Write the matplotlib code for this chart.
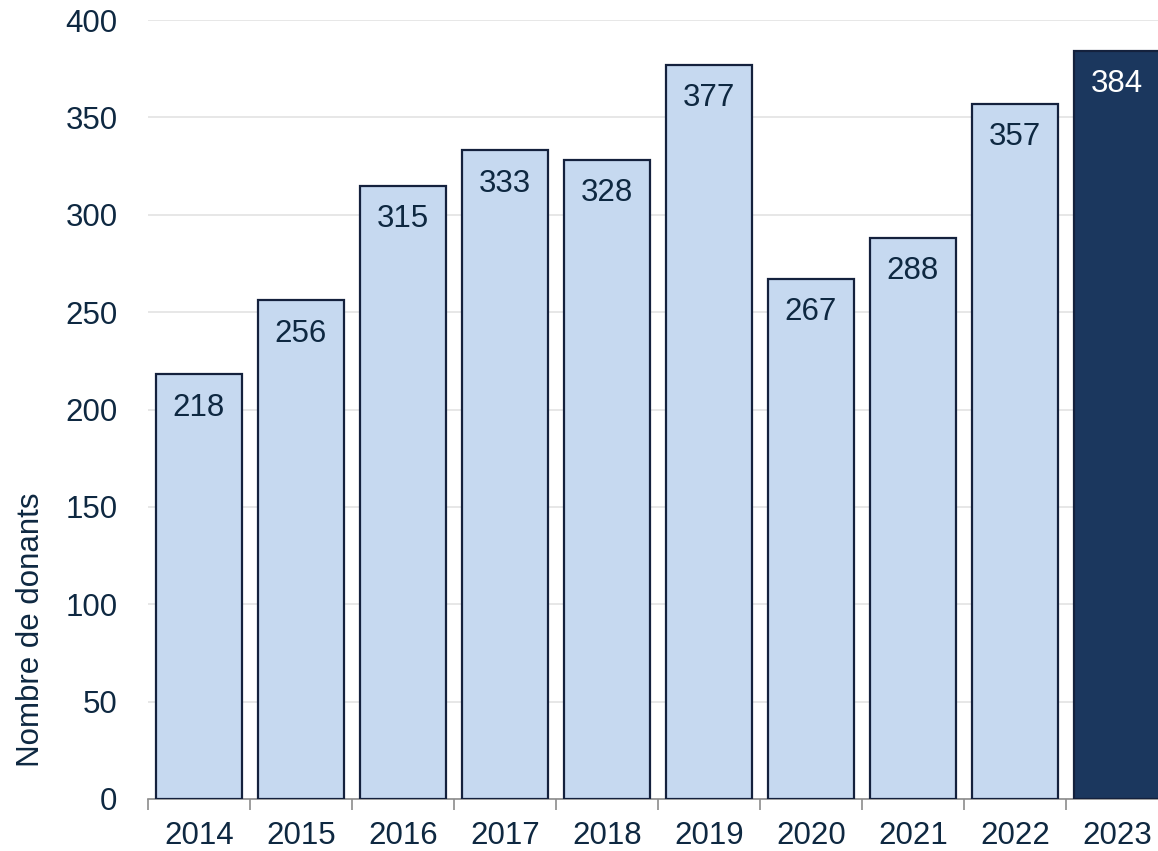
import matplotlib.pyplot as plt

plt.rcParams['font.family'] = ['Liberation Sans', 'DejaVu Sans']

years = ['2014', '2015', '2016', '2017', '2018', '2019', '2020', '2021', '2022', '2023']
donors = [218, 256, 315, 333, 328, 377, 267, 288, 357, 384]

light = '#C6D9F0'
dark = '#1B375E'
edge = '#14213D'
txt = '#0E2841'

fig = plt.figure(figsize=(11.58, 8.51), dpi=100)
ax = fig.add_axes([148 / 1158, 52 / 851, 1020 / 1158, 779 / 851])

colors = [light] * (len(years) - 1) + [dark]
x = range(len(years))
bars = ax.bar(x, donors, width=0.84, color=colors, edgecolor=edge, linewidth=1.6, zorder=3)

# value labels inside the top of each bar
for i, (b, v) in enumerate(zip(bars, donors)):
    c = 'white' if i == len(years) - 1 else txt
    ax.text(b.get_x() + b.get_width() / 2, v - 17, str(v), ha='center', va='center',
            fontsize=22.5, color=c, zorder=4)

ax.set_xlim(-0.5, len(years) - 0.5)
ax.set_ylim(0, 400)
ax.set_yticks(range(0, 401, 50))
ax.grid(axis='y', color='#E3E3E3', linewidth=1.2, zorder=0)

ax.set_xticks(x)
ax.set_xticklabels(years)
ax.set_xticks([i - 0.5 for i in range(len(years) + 1)], minor=True)
ax.tick_params(axis='x', which='major', length=0, pad=16, labelsize=22.5, labelcolor=txt)
ax.tick_params(axis='x', which='minor', length=8, width=1.2, color='#8C8C8C')
ax.tick_params(axis='y', length=0, pad=22, labelsize=22.5, labelcolor=txt)

for s in ['top', 'right', 'left']:
    ax.spines[s].set_visible(False)
ax.spines['bottom'].set_color('#8C8C8C')
ax.spines['bottom'].set_linewidth(1.2)

ax.set_ylabel('Nombre de donants', fontsize=22.5, color=txt, labelpad=14, y=0.217)

fig.savefig('out.png', dpi=100)
